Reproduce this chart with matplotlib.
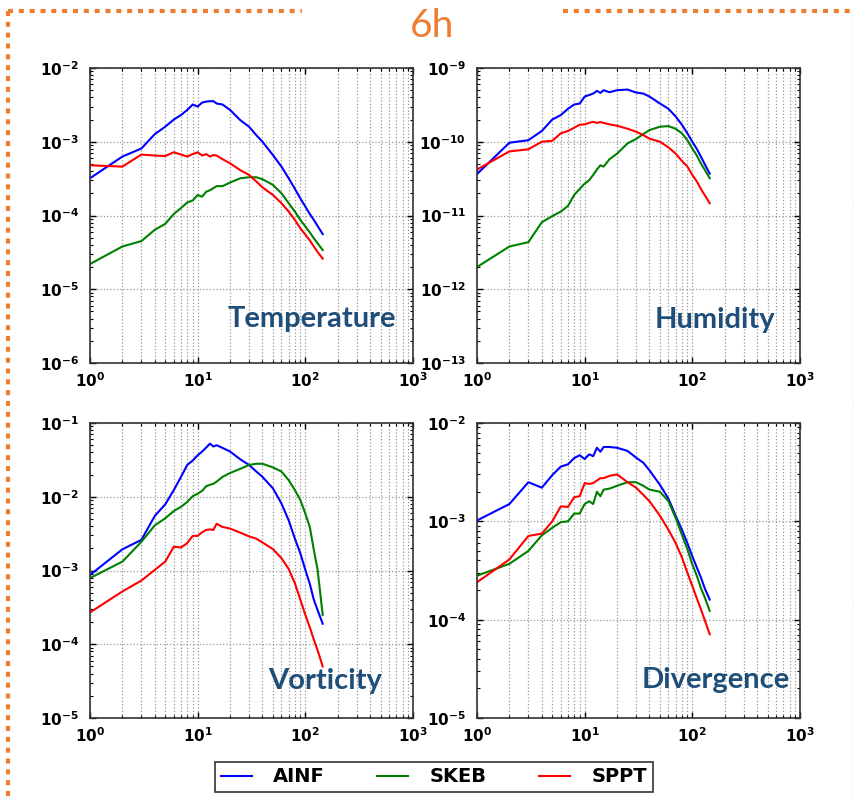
import matplotlib
matplotlib.use('Agg')
import numpy as np
import matplotlib.pyplot as plt
from matplotlib.lines import Line2D
from matplotlib.ticker import LogLocator, NullFormatter, FuncFormatter

plt.rcParams['font.family'] = ['DejaVu Sans']

# wavenumbers shared by all spectra
k = [1, 2, 3, 4, 5, 6, 7, 8, 9, 10, 11, 12, 13, 14, 15, 17, 20, 25, 30, 35,
     40, 50, 60, 70, 80, 90, 100, 110, 120, 130, 145]

# Temperature
temp_ainf = [3.2e-4, 6.3e-4, 8.1e-4, 1.27e-3, 1.6e-3, 2.0e-3, 2.3e-3, 2.7e-3, 3.2e-3, 3.0e-3,
             3.4e-3, 3.5e-3, 3.55e-3, 3.55e-3, 3.3e-3, 3.2e-3, 2.7e-3, 1.95e-3, 1.6e-3, 1.23e-3,
             1.0e-3, 6.6e-4, 4.6e-4, 3.2e-4, 2.3e-4, 1.7e-4, 1.32e-4, 1.05e-4, 8.7e-5, 7.2e-5, 5.6e-5]
temp_skeb = [2.2e-5, 3.8e-5, 4.5e-5, 6.4e-5, 7.7e-5, 1.05e-4, 1.26e-4, 1.5e-4, 1.6e-4, 1.9e-4,
             1.8e-4, 2.1e-4, 2.2e-4, 2.35e-4, 2.5e-4, 2.5e-4, 2.8e-4, 3.2e-4, 3.3e-4, 3.3e-4,
             3.1e-4, 2.6e-4, 2.0e-4, 1.47e-4, 1.13e-4, 8.7e-5, 7.1e-5, 5.9e-5, 4.9e-5, 4.2e-5, 3.4e-5]
temp_sppt = [4.8e-4, 4.6e-4, 6.7e-4, 6.5e-4, 6.4e-4, 7.2e-4, 6.7e-4, 6.3e-4, 6.8e-4, 7.2e-4,
             6.5e-4, 6.8e-4, 6.3e-4, 6.6e-4, 6.5e-4, 5.8e-4, 5.1e-4, 4.1e-4, 3.55e-4, 2.9e-4,
             2.4e-4, 1.9e-4, 1.47e-4, 1.13e-4, 8.7e-5, 6.7e-5, 5.5e-5, 4.6e-5, 3.8e-5, 3.2e-5, 2.6e-5]

# Humidity
hum_ainf = [3.65e-11, 9.7e-11, 1.05e-10, 1.4e-10, 2.0e-10, 2.3e-10, 2.8e-10, 3.2e-10, 3.3e-10, 4.1e-10,
            4.3e-10, 4.5e-10, 4.9e-10, 4.6e-10, 5.0e-10, 4.7e-10, 5.0e-10, 5.1e-10, 4.65e-10, 4.5e-10,
            4.1e-10, 3.3e-10, 2.8e-10, 2.2e-10, 1.7e-10, 1.3e-10, 1.0e-10, 8.0e-11, 6.3e-11, 5.0e-11, 3.7e-11]
hum_skeb = [2.0e-12, 3.8e-12, 4.35e-12, 8.1e-12, 9.8e-12, 1.13e-11, 1.35e-11, 1.9e-11, 2.3e-11, 2.7e-11,
            3.0e-11, 3.55e-11, 4.2e-11, 4.8e-11, 4.6e-11, 5.8e-11, 6.9e-11, 9.5e-11, 1.09e-10, 1.27e-10,
            1.44e-10, 1.6e-10, 1.63e-10, 1.5e-10, 1.3e-10, 1.05e-10, 8.1e-11, 6.5e-11, 5.1e-11, 4.2e-11, 3.2e-11]
hum_sppt = [4.2e-11, 7.4e-11, 7.9e-11, 1.0e-10, 1.03e-10, 1.3e-10, 1.4e-10, 1.55e-10, 1.7e-10, 1.72e-10,
            1.8e-10, 1.86e-10, 1.8e-10, 1.85e-10, 1.8e-10, 1.72e-10, 1.65e-10, 1.5e-10, 1.37e-10, 1.23e-10,
            1.1e-10, 1.0e-10, 8.4e-11, 6.9e-11, 5.5e-11, 4.6e-11, 3.55e-11, 2.9e-11, 2.3e-11, 1.9e-11, 1.47e-11]

# Vorticity
vor_ainf = [8.7e-4, 1.94e-3, 2.6e-3, 5.5e-3, 7.9e-3, 1.23e-2, 1.86e-2, 2.7e-2, 3.1e-2, 3.65e-2,
            4.1e-2, 4.65e-2, 5.25e-2, 4.8e-2, 5.0e-2, 4.6e-2, 4.1e-2, 3.2e-2, 2.7e-2, 2.2e-2,
            1.86e-2, 1.3e-2, 8.1e-3, 4.8e-3, 2.7e-3, 1.7e-3, 1.02e-3, 6.6e-4, 4.0e-4, 2.9e-4, 1.9e-4]
vor_skeb = [7.9e-4, 1.32e-3, 2.45e-3, 4.1e-3, 5.1e-3, 6.4e-3, 7.3e-3, 8.5e-3, 1.02e-2, 1.1e-2,
            1.2e-2, 1.39e-2, 1.45e-2, 1.5e-2, 1.6e-2, 1.86e-2, 2.1e-2, 2.4e-2, 2.7e-2, 2.8e-2,
            2.8e-2, 2.5e-2, 2.2e-2, 1.68e-2, 1.23e-2, 9.0e-3, 5.9e-3, 3.9e-3, 1.9e-3, 1.02e-3, 2.5e-4]
vor_sppt = [2.7e-4, 5.2e-4, 7.3e-4, 1.02e-3, 1.32e-3, 2.1e-3, 2.05e-3, 2.35e-3, 2.95e-3, 2.95e-3,
            3.3e-3, 3.55e-3, 3.6e-3, 3.55e-3, 4.3e-3, 3.9e-3, 3.7e-3, 3.25e-3, 2.9e-3, 2.7e-3,
            2.4e-3, 1.95e-3, 1.47e-3, 1.05e-3, 6.7e-4, 4.0e-4, 2.5e-4, 1.7e-4, 1.15e-4, 8.3e-5, 5.0e-5]

# Divergence
div_ainf = [1.02e-3, 1.5e-3, 2.5e-3, 2.2e-3, 2.95e-3, 3.6e-3, 3.8e-3, 4.4e-3, 4.7e-3, 4.3e-3,
            4.8e-3, 4.6e-3, 5.6e-3, 5.1e-3, 5.7e-3, 5.7e-3, 5.6e-3, 5.2e-3, 4.45e-3, 3.95e-3,
            3.3e-3, 2.35e-3, 1.7e-3, 1.14e-3, 8.2e-4, 6.0e-4, 4.4e-4, 3.4e-4, 2.7e-4, 2.1e-4, 1.6e-4]
div_skeb = [2.8e-4, 3.7e-4, 5.0e-4, 7.2e-4, 8.6e-4, 9.8e-4, 1.0e-3, 1.2e-3, 1.2e-3, 1.5e-3,
            1.6e-3, 1.5e-3, 2.0e-3, 1.8e-3, 2.1e-3, 2.15e-3, 2.3e-3, 2.5e-3, 2.5e-3, 2.3e-3,
            2.1e-3, 2.0e-3, 1.6e-3, 1.08e-3, 7.3e-4, 5.2e-4, 3.65e-4, 2.8e-4, 2.1e-4, 1.7e-4, 1.23e-4]
div_sppt = [2.4e-4, 4.1e-4, 7.1e-4, 7.5e-4, 1.0e-3, 1.42e-3, 1.4e-3, 1.76e-3, 1.8e-3, 2.45e-3,
            2.4e-3, 2.45e-3, 2.6e-3, 2.75e-3, 2.75e-3, 2.9e-3, 3.0e-3, 2.5e-3, 2.2e-3, 1.86e-3,
            1.6e-3, 1.14e-3, 8.2e-4, 6.0e-4, 4.3e-4, 3.0e-4, 2.2e-4, 1.65e-4, 1.28e-4, 1.0e-4, 7.1e-5]

names = ['AINF', 'SKEB', 'SPPT']
colors = ['blue', 'green', 'red']

W, H = 854, 798
fig = plt.figure(figsize=(W / 100, H / 100), dpi=100)


def px(x, y):
    return x / W, 1 - y / H


# bold 10^n labels
pow_fmt = FuncFormatter(lambda v, p: r'$\mathbf{10^{%d}}$' % int(round(np.log10(v))))


def panel(rect, series, ylim, label, lx, ly):
    ax = fig.add_axes(rect)
    for s, c in zip(series, colors):
        ax.plot(k, s, color=c, lw=1.5)
    ax.set_xscale('log')
    ax.set_yscale('log')
    ax.set_xlim(1, 1000)
    ax.set_ylim(*ylim)
    for axis in (ax.xaxis, ax.yaxis):
        axis.set_major_locator(LogLocator(base=10, numticks=10))
        axis.set_minor_locator(LogLocator(base=10, subs=range(2, 10), numticks=20))
        axis.set_major_formatter(pow_fmt)
        axis.set_minor_formatter(NullFormatter())
    ax.tick_params(which='both', direction='in', top=True, right=True, labelsize=11)
    ax.tick_params(which='major', length=4, width=1)
    ax.tick_params(which='minor', length=2, width=0.8)
    ax.tick_params(axis='x', pad=6)
    ax.tick_params(axis='y', pad=8)
    for sp in ax.spines.values():
        sp.set_linewidth(1.2)
        sp.set_color('#333333')
    ax.grid(True, which='major', color='0.6', ls=':', lw=0.9)
    ax.grid(True, which='minor', axis='x', color='0.6', ls=':', lw=0.9)
    ax.text(lx, ly, label, transform=ax.transAxes, ha='right', va='center',
            fontsize=21, fontweight='bold', color='#1F4E79', family='Lato')
    return ax


aw, ah = 323 / W, 295 / H
x_left, x_right = 90 / W, 477 / W
y_top, y_bot = 1 - 363 / H, 1 - 718 / H

panel([x_left, y_top, aw, ah], [temp_ainf, temp_skeb, temp_sppt], (1e-6, 1e-2), 'Temperature', 0.947, 0.15)
panel([x_right, y_top, aw, ah], [hum_ainf, hum_skeb, hum_sppt], (1e-13, 1e-9), 'Humidity', 0.923, 0.145)
panel([x_left, y_bot, aw, ah], [vor_ainf, vor_skeb, vor_sppt], (1e-5, 1e-1), 'Vorticity', 0.904, 0.125)
panel([x_right, y_bot, aw, ah], [div_ainf, div_skeb, div_sppt], (1e-5, 1e-2), 'Divergence', 0.969, 0.13)

# dotted frame around the figure
orange = '#ED7D31'
for (x0, y0), (x1, y1) in [((8, 11), (302, 11)), ((8, 11), (8, 798)), ((563, 11), (854, 11))]:
    a, b = px(x0, y0)
    c, d = px(x1, y1)
    fig.add_artist(Line2D([a, c], [b, d], transform=fig.transFigure, color=orange,
                          lw=3, ls=(0, (1.2, 1.4)), dash_capstyle='butt'))
a, b = px(853, 11)
c, d = px(853, 798)
fig.add_artist(Line2D([a, c], [b, d], transform=fig.transFigure, color='#F4B183',
                      lw=1, ls=(0, (5, 3))))

fig.text(*px(432, 26), '6h', ha='center', va='center', color=orange, fontsize=28, family='Lato')

handles = [Line2D([], [], color=c, lw=1.5) for c in colors]
leg = fig.legend(handles, names, loc='center', bbox_to_anchor=px(434, 777), ncol=3,
                 frameon=True, fancybox=False, edgecolor='black',
                 prop=dict(weight='bold', size=14), handlelength=1.6, handletextpad=1.1,
                 columnspacing=2.7, borderpad=0.3)
leg.get_frame().set_linewidth(1.2)

fig.savefig('out.png', dpi=100)
